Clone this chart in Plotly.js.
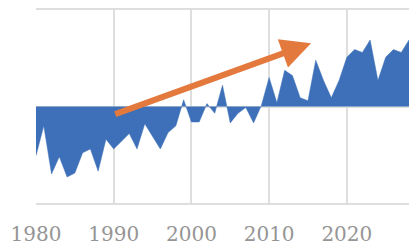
<!DOCTYPE html>
<html>
<head>
<meta charset="utf-8">
<script src="https://cdn.plot.ly/plotly-3.0.1.min.js"></script>
<style>
html,body{margin:0;padding:0;background:#fff;}
#chart{width:409px;height:248px;}
</style>
</head>
<body>
<div id="chart"></div>
<script>
const years = [1980,1981,1982,1983,1984,1985,1986,1987,1988,1989,
               1990,1991,1992,1993,1994,1995,1996,1997,1998,1999,
               2000,2001,2002,2003,2004,2005,2006,2007,2008,2009,
               2010,2011,2012,2013,2014,2015,2016,2017,2018,2019,
               2020,2021,2022,2023,2024,2025,2026,2027,2028];
const anomaly = [-0.51,-0.20,-0.70,-0.52,-0.73,-0.69,-0.48,-0.44,-0.67,-0.34,
                 -0.44,-0.36,-0.28,-0.44,-0.18,-0.31,-0.44,-0.27,-0.20,0.07,
                 -0.16,-0.16,0.03,-0.07,0.22,-0.17,-0.07,-0.01,-0.17,0.01,
                 0.30,0.04,0.375,0.32,0.09,0.06,0.48,0.27,0.09,0.27,
                 0.51,0.59,0.56,0.69,0.27,0.51,0.59,0.56,0.69];
const tickYears = [1980,1990,2000,2010,2020];
const tickLabels = ["1980","1990","2000","2010","2020"];
const arrowStart = [1990, -0.085];
const arrowEnd = [2015.4, 0.656];

const trace = {
  x: years, y: anomaly, type: 'scatter', mode: 'lines',
  fill: 'tozeroy', fillcolor: '#3D70B8',
  line: {color: '#3D70B8', width: 0.5},
  hoverinfo: 'skip'
};

const layout = {
  width: 409, height: 248,
  margin: {l: 36, r: 0, t: 10, b: 45, pad: 0},
  paper_bgcolor: '#ffffff', plot_bgcolor: '#ffffff',
  showlegend: false,
  xaxis: {
    range: [1980, 2028], tickmode: 'array', tickvals: tickYears, ticktext: tickLabels,
    showgrid: true, gridcolor: '#dedede', gridwidth: 2,
    zeroline: false, showline: true, mirror: true, linecolor: '#dedede', linewidth: 2,
    ticks: '',
    tickfont: {family: 'DejaVu Serif', size: 20, color: '#959595'},
    ticklabelstandoff: 12
  },
  yaxis: {
    range: [-1, 1], tickmode: 'array', tickvals: [-1, 0, 1],
    showgrid: true, gridcolor: '#dedede', gridwidth: 2,
    zeroline: true, zerolinecolor: '#dedede', zerolinewidth: 2,
    showticklabels: false, ticks: '', showline: false
  },
  annotations: [{
    x: arrowEnd[0], y: arrowEnd[1], xref: 'x', yref: 'y',
    ax: arrowStart[0], ay: arrowStart[1], axref: 'x', ayref: 'y',
    text: '', showarrow: true, arrowhead: 2, arrowsize: 1,
    arrowwidth: 6, arrowcolor: '#E4793E', standoff: 0
  }]
};

Plotly.newPlot('chart', [trace], layout, {displayModeBar: false, staticPlot: true});
</script>
</body>
</html>
